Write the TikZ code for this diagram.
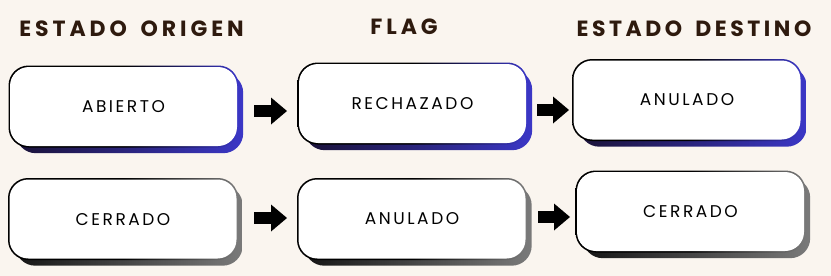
\documentclass[tikz,border=0pt]{standalone}
\usepackage{fontspec}
\setmainfont{Poppins}
\newfontfamily\titlefont[LetterSpace=18]{Poppins}
\newfontfamily\titlefontb[LetterSpace=16]{Poppins}
\newfontfamily\boxfont[LetterSpace=15]{Poppins}
\usetikzlibrary{backgrounds,calc,arrows.meta}
\definecolor{bgc}{HTML}{FAF5EF}
\definecolor{titlec}{HTML}{2E1A0E}
\definecolor{shdark}{HTML}{1A1238}
\definecolor{shblue}{HTML}{3B37C6}
\definecolor{grdark}{HTML}{151515}
\definecolor{grlight}{HTML}{7A7A7A}
\newcommand\boxdeco[3]{%
  \shade[rounded corners=20pt,left color=#2,right color=#3] ($(#1.north west)+(6,6)$) rectangle ($(#1.south east)+(6,7)$);
  \shade[rounded corners=20pt,left color=black,right color=#3,middle color=black] ($(#1.north west)+(-1.3,-1.3)$) rectangle ($(#1.south east)+(1.3,1.3)$);
}
\begin{document}
\begin{tikzpicture}[x=1pt,y=-1pt,
  stbox/.style={rectangle, rounded corners=19pt, fill=white, minimum width=227pt, minimum height=79pt, inner sep=0pt, text depth=0pt, font=\boxfont\fontsize{17}{20}\selectfont, text=black},
  sttitle/.style={inner sep=0pt, text depth=0pt, font=\titlefont\bfseries\fontsize{22}{26}\selectfont, text=titlec},
  blockarrow/.style={line width=12pt, -{Triangle[length=16pt,width=27pt,line width=0pt]}}]
\useasboundingbox (0,0) rectangle (831,276);
\begin{scope}[on background layer]
  \fill[bgc] (0,0) rectangle (831,276);
\end{scope}
% titles
\node[sttitle] (t1) at (131.5,28.5) {ESTADO\hspace{5pt} ORIGEN};
\node[sttitle] (t2) at (404,26.5) {FLAG};
\node[sttitle, font=\titlefontb\bfseries\fontsize{22}{26}\selectfont] (t3) at (694,28.5) {ESTADO\hspace{5pt} DESTINO};
% boxes
\node[stbox] (b1) at (123.5,106.5) {ABIERTO};
\node[stbox] (b2) at (412.5,103.5) {RECHAZADO};
\node[stbox] (b3) at (687,100) {ANULADO};
\node[stbox] (b4) at (123,219) {CERRADO};
\node[stbox] (b5) at (412,219) {ANULADO};
\node[stbox] (b6) at (690.5,211.5) {CERRADO};
\begin{scope}[on background layer]
  \boxdeco{b1}{shdark}{shblue}
  \boxdeco{b2}{shdark}{shblue}
  \boxdeco{b3}{shdark}{shblue}
  \boxdeco{b4}{grdark}{grlight}
  \boxdeco{b5}{grdark}{grlight}
  \boxdeco{b6}{grdark}{grlight}
\end{scope}
% arrows
\coordinate (a1s) at (254,111); \coordinate (a1e) at (287,111);
\coordinate (a2s) at (537,110); \coordinate (a2e) at (569,110);
\coordinate (a3s) at (254,218); \coordinate (a3e) at (287,218);
\coordinate (a4s) at (538,217); \coordinate (a4e) at (570,217);
\draw[blockarrow] (a1s) -- (a1e);
\draw[blockarrow] (a2s) -- (a2e);
\draw[blockarrow] (a3s) -- (a3e);
\draw[blockarrow] (a4s) -- (a4e);
\end{tikzpicture}
\end{document}
